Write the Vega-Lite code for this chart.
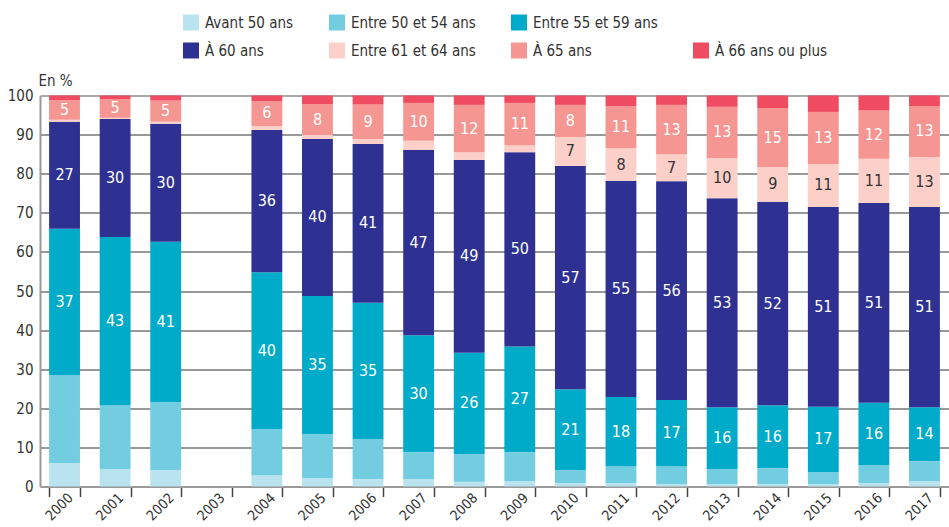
{
  "$schema": "https://vega.github.io/schema/vega-lite/v6.json",
  "width": 909,
  "height": 391,
  "autosize": {"type": "none"},
  "padding": {"left": 40, "top": 95.5, "right": 0, "bottom": 40.5},
  "background": "white",
  "config": {
    "font": "'DejaVu Sans Condensed', 'Liberation Sans Narrow', sans-serif",
    "view": {"stroke": null},
    "axisY": {
      "title": "En %",
      "titleAngle": 0,
      "titleAlign": "left",
      "titleBaseline": "alphabetic",
      "titleX": -2,
      "titleY": -10,
      "titleFontSize": 15,
      "titleFontWeight": "normal",
      "titleColor": "#333333",
      "ticks": false,
      "labelPadding": 7,
      "labelFontSize": 15,
      "labelColor": "#333333",
      "domainColor": "#999999",
      "domainWidth": 2,
      "grid": true
    }
  },
  "datasets": {
    "rank": [
      {"cat": "Avant 50 ans", "rank": 1},
      {"cat": "Entre 50 et 54 ans", "rank": 2},
      {"cat": "Entre 55 et 59 ans", "rank": 3},
      {"cat": "À 60 ans", "rank": 4},
      {"cat": "Entre 61 et 64 ans", "rank": 5},
      {"cat": "À 65 ans", "rank": 6},
      {"cat": "À 66 ans ou plus", "rank": 7}
    ]
  },
  "data": {
    "values": [
      {"year": "2000", "Avant 50 ans": 6.0, "Entre 50 et 54 ans": 22.5, "Entre 55 et 59 ans": 37.4, "À 60 ans": 27.4, "Entre 61 et 64 ans": 0.5, "À 65 ans": 5.0, "À 66 ans ou plus": 1.2},
      {"year": "2001", "Avant 50 ans": 4.5, "Entre 50 et 54 ans": 16.3, "Entre 55 et 59 ans": 43.0, "À 60 ans": 30.2, "Entre 61 et 64 ans": 0.3, "À 65 ans": 4.8, "À 66 ans ou plus": 0.9},
      {"year": "2002", "Avant 50 ans": 4.2, "Entre 50 et 54 ans": 17.4, "Entre 55 et 59 ans": 41.0, "À 60 ans": 30.2, "Entre 61 et 64 ans": 0.5, "À 65 ans": 5.4, "À 66 ans ou plus": 1.3},
      {"year": "2004", "Avant 50 ans": 2.9, "Entre 50 et 54 ans": 11.8, "Entre 55 et 59 ans": 40.1, "À 60 ans": 36.4, "Entre 61 et 64 ans": 1.0, "À 65 ans": 6.4, "À 66 ans ou plus": 1.4},
      {"year": "2005", "Avant 50 ans": 2.2, "Entre 50 et 54 ans": 11.2, "Entre 55 et 59 ans": 35.3, "À 60 ans": 40.2, "Entre 61 et 64 ans": 1.0, "À 65 ans": 7.9, "À 66 ans ou plus": 2.2},
      {"year": "2006", "Avant 50 ans": 1.9, "Entre 50 et 54 ans": 10.2, "Entre 55 et 59 ans": 34.9, "À 60 ans": 40.6, "Entre 61 et 64 ans": 1.3, "À 65 ans": 8.9, "À 66 ans ou plus": 2.2},
      {"year": "2007", "Avant 50 ans": 1.9, "Entre 50 et 54 ans": 6.9, "Entre 55 et 59 ans": 29.9, "À 60 ans": 47.4, "Entre 61 et 64 ans": 2.3, "À 65 ans": 9.7, "À 66 ans ou plus": 1.9},
      {"year": "2008", "Avant 50 ans": 1.2, "Entre 50 et 54 ans": 7.1, "Entre 55 et 59 ans": 25.9, "À 60 ans": 49.3, "Entre 61 et 64 ans": 2.0, "À 65 ans": 12.1, "À 66 ans ou plus": 2.4},
      {"year": "2009", "Avant 50 ans": 1.4, "Entre 50 et 54 ans": 7.4, "Entre 55 et 59 ans": 27.0, "À 60 ans": 49.7, "Entre 61 et 64 ans": 1.8, "À 65 ans": 10.8, "À 66 ans ou plus": 1.9},
      {"year": "2010", "Avant 50 ans": 0.9, "Entre 50 et 54 ans": 3.3, "Entre 55 et 59 ans": 20.7, "À 60 ans": 57.1, "Entre 61 et 64 ans": 7.4, "À 65 ans": 8.2, "À 66 ans ou plus": 2.4},
      {"year": "2011", "Avant 50 ans": 0.9, "Entre 50 et 54 ans": 4.3, "Entre 55 et 59 ans": 17.7, "À 60 ans": 55.3, "Entre 61 et 64 ans": 8.3, "À 65 ans": 10.7, "À 66 ans ou plus": 2.8},
      {"year": "2012", "Avant 50 ans": 0.6, "Entre 50 et 54 ans": 4.6, "Entre 55 et 59 ans": 16.9, "À 60 ans": 56.0, "Entre 61 et 64 ans": 6.9, "À 65 ans": 12.6, "À 66 ans ou plus": 2.4},
      {"year": "2013", "Avant 50 ans": 0.6, "Entre 50 et 54 ans": 3.9, "Entre 55 et 59 ans": 15.8, "À 60 ans": 53.4, "Entre 61 et 64 ans": 10.3, "À 65 ans": 13.1, "À 66 ans ou plus": 2.9},
      {"year": "2014", "Avant 50 ans": 0.6, "Entre 50 et 54 ans": 4.1, "Entre 55 et 59 ans": 16.1, "À 60 ans": 52.0, "Entre 61 et 64 ans": 8.9, "À 65 ans": 15.1, "À 66 ans ou plus": 3.2},
      {"year": "2015", "Avant 50 ans": 0.6, "Entre 50 et 54 ans": 3.1, "Entre 55 et 59 ans": 16.7, "À 60 ans": 51.1, "Entre 61 et 64 ans": 11.0, "À 65 ans": 13.3, "À 66 ans ou plus": 4.2},
      {"year": "2016", "Avant 50 ans": 0.9, "Entre 50 et 54 ans": 4.6, "Entre 55 et 59 ans": 15.9, "À 60 ans": 51.1, "Entre 61 et 64 ans": 11.3, "À 65 ans": 12.4, "À 66 ans ou plus": 3.8},
      {"year": "2017", "Avant 50 ans": 1.4, "Entre 50 et 54 ans": 5.1, "Entre 55 et 59 ans": 13.8, "À 60 ans": 51.2, "Entre 61 et 64 ans": 12.8, "À 65 ans": 13.0, "À 66 ans ou plus": 2.7}
    ]
  },
  "transform": [
    {"fold": ["Avant 50 ans", "Entre 50 et 54 ans", "Entre 55 et 59 ans", "À 60 ans", "Entre 61 et 64 ans", "À 65 ans", "À 66 ans ou plus"], "as": ["cat", "value"]},
    {"lookup": "cat", "from": {"data": {"name": "rank"}, "key": "cat", "fields": ["rank"]}},
    {"stack": "value", "groupby": ["year"], "sort": [{"field": "rank", "order": "ascending"}], "as": ["y0", "y1"]}
  ],
  "encoding": {
    "x": {
      "field": "year",
      "type": "ordinal",
      "scale": {
        "domain": ["2000", "2001", "2002", "2003", "2004", "2005", "2006", "2007", "2008", "2009", "2010", "2011", "2012", "2013", "2014", "2015", "2016", "2017"],
        "paddingInner": 0.39,
        "paddingOuter": 0.18
      },
      "axis": {
        "title": null,
        "labelAngle": -45,
        "labelAlign": "right",
        "labelBaseline": "middle",
        "labelFontSize": 14,
        "labelColor": "#333333",
        "labelPadding": -1,
        "labelOffset": 6,
        "tickBand": "extent",
        "tickSize": 10,
        "tickColor": "#444444",
        "tickWidth": 1.5,
        "domainColor": "#999999",
        "domainWidth": 2
      }
    }
  },
  "layer": [
    {
      "mark": {"type": "bar"},
      "encoding": {
        "y": {
          "field": "y0",
          "type": "quantitative",
          "title": "En %",
          "scale": {"domain": [0, 100], "nice": false},
          "axis": {
            "values": [0, 10, 20, 30, 40, 50, 60, 70, 80, 90, 100],
            "gridColor": {"condition": {"test": "datum.value == 100 || datum.value == 0", "value": "#aaaaaa"}, "value": "#333333"},
            "gridWidth": {"condition": {"test": "datum.value == 100", "value": 2}, "value": 1}
          }
        },
        "y2": {"field": "y1"},
        "color": {
          "field": "cat",
          "type": "nominal",
          "scale": {
            "domain": ["Avant 50 ans", "Entre 50 et 54 ans", "Entre 55 et 59 ans", " ", "À 60 ans", "Entre 61 et 64 ans", "À 65 ans", "À 66 ans ou plus"],
            "range": ["#b9e3ee", "#72cde1", "#00abc9", "transparent", "#2e3192", "#fccfc9", "#f59692", "#ef4b61"]
          },
          "legend": {
            "orient": "none",
            "legendX": 143,
            "legendY": -81,
            "columns": 4,
            "direction": "horizontal",
            "title": null,
            "symbolType": "square",
            "symbolSize": 256,
            "symbolStrokeWidth": 0,
            "symbolOpacity": 1,
            "labelFontSize": 15,
            "labelColor": "#333333",
            "labelOffset": 6,
            "columnPadding": 35,
            "rowPadding": 12
          }
        }
      }
    },
    {
      "transform": [
        {"filter": "datum.cat == 'Entre 55 et 59 ans' || datum.cat == 'À 60 ans' || datum.cat == 'À 65 ans' || (datum.cat == 'Entre 61 et 64 ans' && toNumber(datum.year) >= 2010)"},
        {"fold": ["y0", "y1"], "as": ["edge", "pos"]},
        {"aggregate": [{"op": "mean", "field": "pos", "as": "mid"}, {"op": "max", "field": "value", "as": "value"}], "groupby": ["year", "cat"]}
      ],
      "mark": {"type": "text", "fontSize": 16, "baseline": "middle", "align": "center"},
      "encoding": {
        "y": {
          "field": "mid",
          "type": "quantitative",
          "title": "En %",
          "axis": {
            "values": [0, 10, 20, 30, 40, 50, 60, 70, 80, 90, 100],
            "gridColor": {"condition": {"test": "datum.value == 100 || datum.value == 0", "value": "#aaaaaa"}, "value": "#333333"},
            "gridWidth": {"condition": {"test": "datum.value == 100", "value": 2}, "value": 1}
          }
        },
        "text": {"field": "value", "type": "quantitative", "format": ".0f"},
        "color": {"condition": {"test": "datum.cat == 'Entre 61 et 64 ans'", "value": "#333333"}, "value": "white"}
      }
    }
  ]
}
